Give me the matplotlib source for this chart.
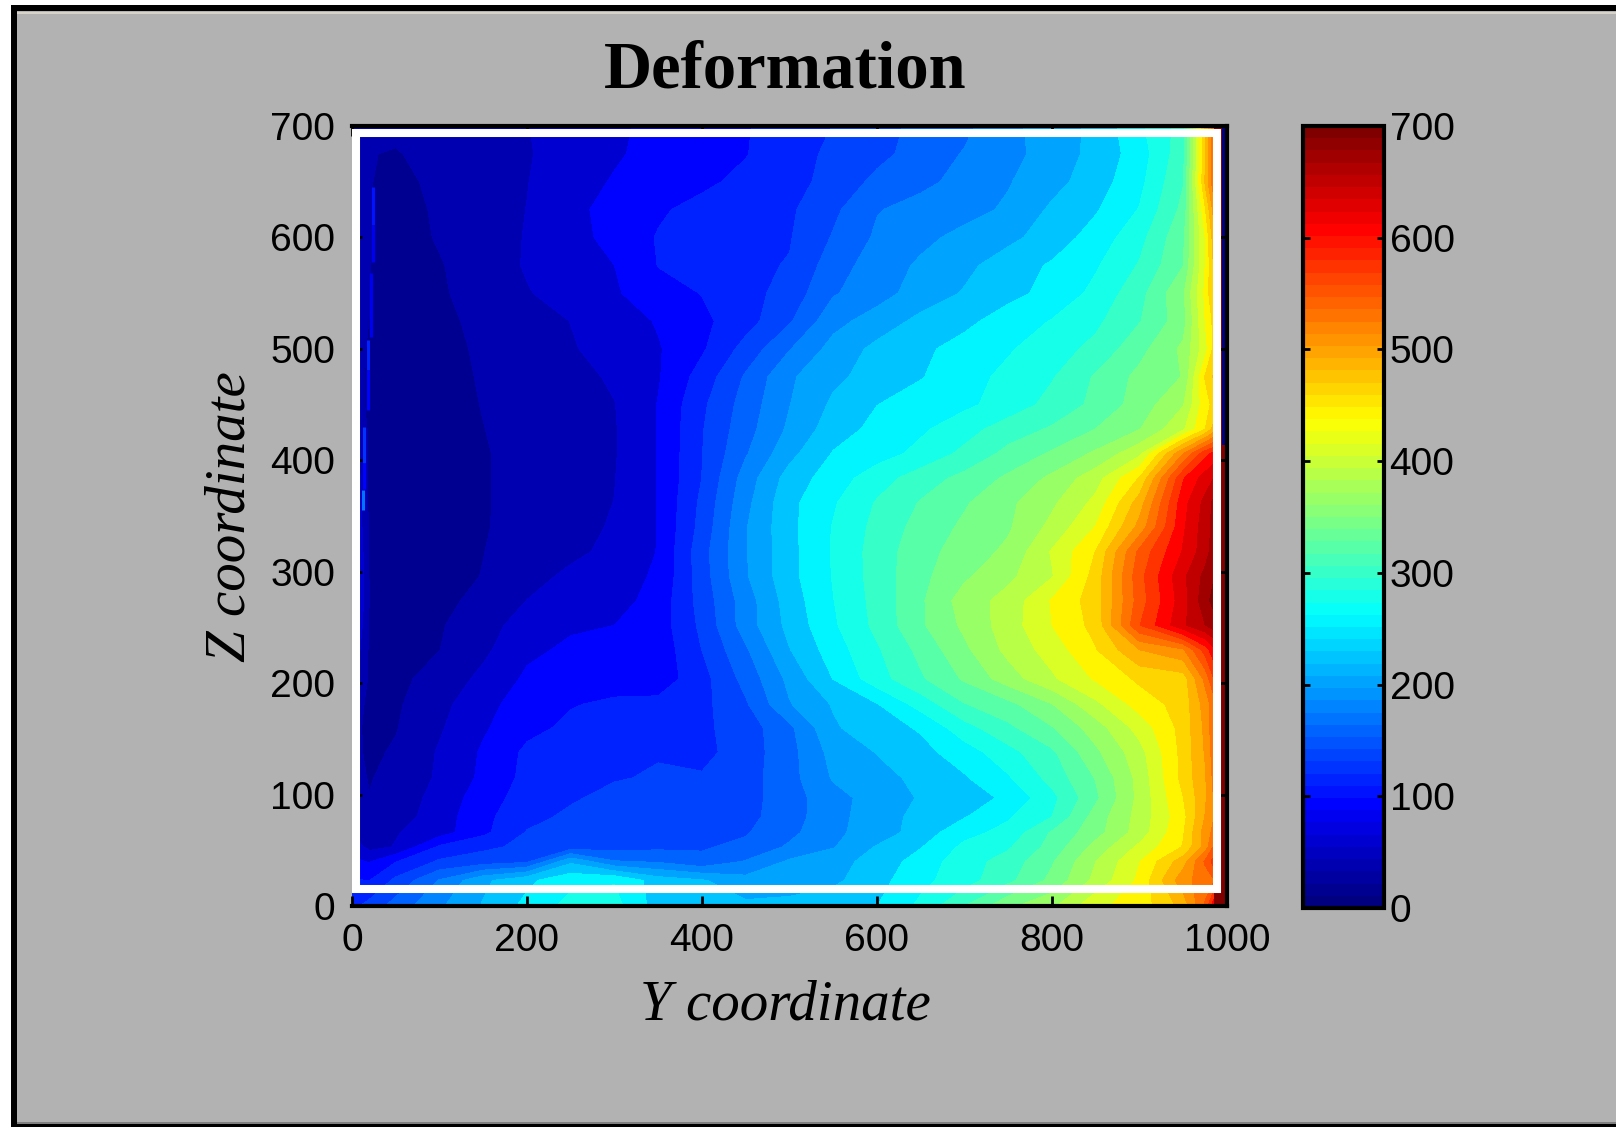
import numpy as np
import matplotlib
matplotlib.use('Agg')
import matplotlib.pyplot as plt
from matplotlib.patches import Rectangle
from matplotlib.cm import ScalarMappable
from matplotlib.colors import Normalize, LinearSegmentedColormap

W, H = 1616, 1127

# values
y_coord = [0, 20, 50, 100, 150, 200, 250, 300, 350, 400, 450, 500, 550, 600, 650, 700, 750, 800, 850, 900, 950, 975, 985]
z_coord = [0, 23, 40, 53, 66, 80, 97, 115, 138, 160, 181, 204, 230, 252, 274, 296, 318, 340, 362, 384, 406, 428, 450,
           475, 500, 525, 550, 575, 600, 625, 650, 675, 700]

z0   = [110, 125, 150, 183, 212, 240, 265, 265, 222, 235, 215, 222, 225, 233, 262, 303, 345, 368, 415, 430, 475, 540, 600]
z23  = [95, 93, 122, 165, 205, 228, 250, 255, 222, 212, 195, 190, 205, 225, 250, 270, 297, 333, 380, 425, 505, 525, 535]
z40  = [75, 68, 92, 120, 128, 135, 205, 165, 160, 145, 165, 190, 202, 218, 244, 269, 290, 324, 373, 419, 480, 540, 570]
z53  = [60, 40, 48, 97, 112, 122, 127, 131, 135, 138, 145, 167, 185, 212, 232, 262, 277, 312, 358, 402, 445, 500, 540]
z66  = [45, 30, 45, 60, 88, 118, 124, 128, 135, 136, 138, 157, 182, 197, 221, 249, 264, 306, 341, 384, 441, 500, 520]
z80  = [40, 28, 36, 58, 87, 110, 121, 126, 130, 130, 133, 153, 179, 199, 217, 232, 254, 280, 337, 382, 436, 491, 513]
z97  = [35, 24, 33, 55, 82, 104, 114, 123, 123, 125, 131, 153, 178, 197, 212, 222, 238, 273, 322, 380, 443, 486, 515]
z115 = [30, 22, 30, 50, 75, 100, 109, 115, 119, 119, 130, 155, 189, 202, 216, 231, 254, 288, 328, 381, 451, 487, 520]
z138 = [30, 19, 26, 49, 73, 98, 107, 112, 115, 110, 128, 155, 195, 211, 226, 245, 272, 299, 345, 388, 451, 492, 525]
z160 = [30, 18, 22, 44, 67, 87, 98, 104, 104, 112, 128, 158, 207, 223, 236, 271, 298, 325, 362, 406, 452, 495, 530]
z181 = [35, 18, 20, 40, 62, 82, 92, 97, 100, 110, 137, 185, 212, 232, 266, 302, 320, 349, 391, 430, 453, 500, 525]
z204 = [50, 20, 17, 33, 52, 74, 80, 84, 80, 108, 148, 193, 234, 270, 300, 330, 362, 393, 423, 448, 455, 520, 560]
z230 = [70, 19, 14, 23, 42, 65, 74, 79, 78, 117, 160, 209, 245, 277, 310, 345, 380, 407, 442, 490, 510, 570, 600]
z252 = [85, 20, 15, 21, 38, 56, 67, 70, 81, 122, 175, 217, 253, 286, 323, 355, 385, 420, 451, 559, 626, 653, 665]
z274 = [95, 22, 13, 19, 28, 47, 55, 61, 79, 126, 175, 221, 256, 288, 323, 361, 382, 422, 455, 548, 620, 668, 685]
z296 = [100, 21, 11, 16, 24, 39, 51, 61, 73, 129, 184, 226, 258, 290, 320, 346, 368, 395, 453, 552, 625, 660, 675]
z318 = [95, 18, 9, 15, 23, 32, 42, 52, 71, 131, 185, 226, 259, 290, 318, 337, 355, 399, 444, 543, 609, 643, 665]
z340 = [85, 18, 8, 15, 22, 30, 39, 49, 71, 125, 185, 227, 258, 287, 312, 331, 347, 380, 421, 498, 603, 642, 660]
z362 = [78, 18, 8, 15, 22, 29, 38, 47, 71, 122, 180, 227, 254, 282, 305, 324, 345, 369, 403, 478, 598, 637, 660]
z384 = [72, 18, 8, 15, 22, 29, 37, 46, 71, 117, 174, 220, 245, 269, 292, 310, 331, 355, 387, 445, 581, 618, 630]
z406 = [65, 19, 8, 15, 22, 29, 36, 45, 71, 116, 161, 203, 235, 247, 263, 286, 310, 330, 354, 391, 513, 575, 590]
z428 = [50, 19, 8, 15, 23, 30, 37, 45, 71, 115, 154, 191, 222, 240, 253, 270, 292, 306, 327, 349, 393, 443, 475]
z450 = [32, 20, 9, 16, 24, 31, 38, 46, 71, 112, 150, 186, 214, 233, 243, 252, 266, 288, 309, 337, 372, 434, 450]
z475 = [32, 20, 10, 17, 25, 32, 39, 50, 68, 103, 143, 183, 205, 219, 232, 247, 263, 278, 306, 333, 351, 445, 470]
z500 = [32, 21, 10, 18, 26, 36, 45, 54, 68, 90, 125, 162, 195, 216, 229, 241, 254, 270, 286, 319, 355, 410, 450]
z525 = [32, 23, 11, 19, 28, 37, 47, 58, 72, 88, 107, 137, 179, 197, 216, 228, 243, 258, 275, 302, 340, 420, 450]
z550 = [32, 24, 12, 21, 31, 45, 57, 67, 85, 94, 108, 126, 161, 177, 197, 212, 227, 240, 263, 295, 347, 425, 470]
z575 = [32, 24, 12, 22, 33, 49, 60, 70, 94, 105, 112, 118, 152, 175, 190, 204, 222, 236, 254, 282, 326, 420, 470]
z600 = [32, 24, 15, 25, 36, 48, 62, 77, 95, 106, 112, 115, 142, 167, 181, 193, 204, 221, 243, 272, 322, 420, 480]
z625 = [32, 24, 16, 26, 37, 47, 63, 79, 90, 101, 108, 113, 135, 162, 171, 179, 190, 214, 231, 258, 310, 440, 500]
z650 = [32, 24, 19, 27, 37, 46, 60, 72, 80, 88, 100, 109, 124, 146, 158, 170, 185, 202, 222, 250, 302, 470, 530]
z675 = [31, 24, 22, 30, 39, 45, 56, 67, 78, 86, 92, 112, 119, 133, 150, 165, 179, 197, 217, 245, 295, 460, 530]
z700 = [30, 27, 28, 33, 40, 46, 56, 66, 76, 84, 91, 109, 117, 130, 147, 158, 181, 197, 216, 252, 290, 470, 530]

deformation = np.array([z0, z23, z40, z53, z66, z80, z97, z115, z138, z160, z181, z204, z230, z252,
                        z274, z296, z318, z340, z362, z384, z406, z428, z450, z475, z500, z525, z550,
                        z575, z600, z625, z650, z675, z700])

# thin bright streak next to the left edge
streak_y = [24, 24, 22, 18, 18, 14, 14, 12]
streak_z0 = [611, 578, 511, 481, 445, 398, 374, 355]
streak_z1 = [645, 611, 568, 508, 481, 430, 398, 373]
streak_val = [100, 80, 85, 120, 90, 125, 90, 165]

# strip between white box and right axis line
strip_y = [985, 994, 1000]
strip_z = [0, 414, 700]
strip_vals = np.array([[700, 700], [700, 8]])

x_ticks = [0, 200, 400, 600, 800, 1000]
z_ticks = [0, 100, 200, 300, 400, 500, 600, 700]
n_levels = 30
zmax = 700

grey = '#b2b2b2'
tick_font = 'Liberation Sans'
serif = 'Liberation Serif'

# the older jet: blue, cyan, yellow, red on even steps
jet = LinearSegmentedColormap.from_list('jet_old', [(0, (0, 0, .5)), (.125, (0, 0, 1)), (.375, (0, 1, 1)),
                                                    (.625, (1, 1, 0)), (.875, (1, 0, 0)), (1, (.5, 0, 0))], N=64)
norm = Normalize(0, zmax)

fig = plt.figure(figsize=(W/100, H/100), dpi=100, facecolor='white')

def box(l, t, r, b):
    return [l/W, 1-b/H, (r-l)/W, (b-t)/H]

def panel(l, t, r, b, color):
    fig.add_artist(Rectangle((l/W, 1-b/H), (r-l)/W, (b-t)/H, transform=fig.transFigure, fc=color, ec='none', zorder=-5))

# window frame
panel(11, 5, W, H, 'black')
panel(17, 11, W, 1124, grey)
panel(17, 12, W, 14, '#d6d4c8')
panel(17, 1122, W, 1124, '#808080')

ax = fig.add_axes(box(352, 126, 1227, 906))
levels = np.linspace(0, zmax, n_levels+1)
band_colors = [jet((k+0.8)/n_levels) for k in range(n_levels)]
ax.contourf(y_coord, z_coord, deformation, levels=levels, colors=band_colors)
ax.vlines(streak_y, streak_z0, streak_z1, colors=[jet(norm(v)) for v in streak_val], lw=2.2, zorder=1.5)
ax.pcolormesh(strip_y, strip_z, strip_vals, cmap=jet, vmin=0, vmax=zmax)
ax.set_xlim(0, 1000)
ax.set_ylim(0, 700)
ax.set_xticks(x_ticks)
ax.set_yticks(z_ticks)
ax.tick_params(direction='in', length=7, width=2, top=True, right=True, labelsize=28, pad=12)
for lab in ax.get_xticklabels()+ax.get_yticklabels():
    lab.set_family(tick_font)
ax.spines['left'].set_visible(False)
for s in ['top', 'bottom', 'right']:
    ax.spines[s].set_linewidth(3)

# white box around the section
ax.add_patch(Rectangle((4, 15.7), 984.6, 678.3, fill=False, ec='white', lw=5.8, zorder=2.4))

cax = fig.add_axes(box(1303, 126, 1384, 908))
cb = fig.colorbar(ScalarMappable(norm, jet), cax=cax)
cb.set_ticks(z_ticks)
cax.tick_params(direction='in', length=5, width=2, left=True, right=True, labelsize=28, pad=4)
for lab in cax.get_yticklabels():
    lab.set_family(tick_font)
cb.outline.set_linewidth(3)

fig.text(785/W, 1-71/H, 'Deformation', family=serif, weight='bold', size=48, ha='center', va='center')
fig.text(785/W, 1-1006/H, 'Y coordinate', family=serif, style='italic', size=41, ha='center', va='center')
fig.text(231/W, 1-517/H, 'Z coordinate', family=serif, style='italic', size=41, rotation=90, ha='center', va='center')

fig.savefig('out.png', dpi=100, facecolor='white')
